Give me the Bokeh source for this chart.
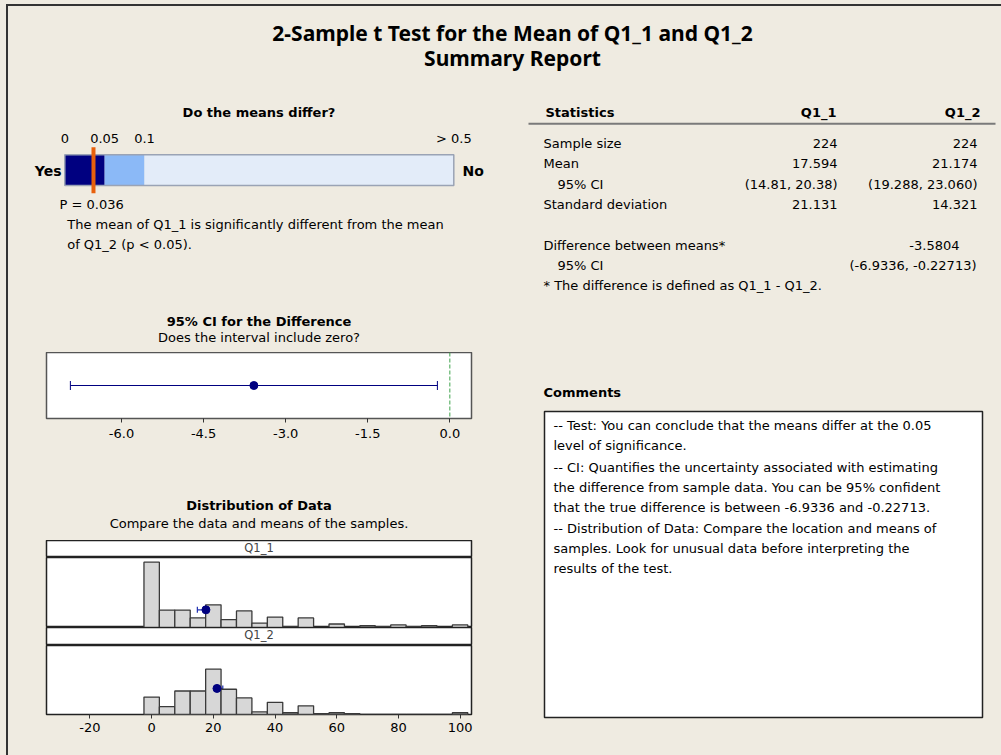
from bokeh.plotting import figure
from bokeh.layouts import column, row
from bokeh.models import (Range1d, ColumnDataSource, Whisker, TeeHead, Span, Spacer,
                          GlobalInlineStyleSheet, FixedTicker, NumeralTickFormatter)
from bokeh.core.properties import value
from bokeh.embed import file_html
from bokeh.resources import INLINE

# ---------------- data ----------------
title_lines = ["2-Sample t Test for the Mean of Q1_1 and Q1_2", "Summary Report"]
samples = ["Q1_1", "Q1_2"]
sample_size = [224, 224]
means = [17.594, 21.174]
mean_ci_low = [14.81, 19.288]
mean_ci_high = [20.38, 23.060]
mean_ci_text = ["(14.81, 20.38)", "(19.288, 23.060)"]
std_dev = [21.131, 14.321]
diff_mean = -3.5804
diff_ci = [-6.9336, -0.22713]
p_value = 0.036
p_ticks = [0.0, 0.05, 0.1, 0.5]
p_tick_labels = ["0", "0.05", "0.1", "> 0.5"]
ci_ticks = [-6.0, -4.5, -3.0, -1.5, 0.0]
hist_ticks = [-20, 0, 20, 40, 60, 80, 100]
bin_centers = [0, 5, 10, 15, 20, 25, 30, 35, 40, 45, 50, 55, 60, 65, 70, 75, 80, 85, 90, 95, 100]
counts_q1_1 = [75, 20, 20, 11, 26, 9, 19, 5, 12, 1, 11, 0, 4, 0, 2, 1, 3, 1, 2, 0, 3]
counts_q1_2 = [20, 9, 27, 27, 52, 29, 19, 3, 14, 2, 10, 1, 2, 1, 0, 0, 0, 0, 0, 0, 2]
comment_lines = [
    "-- Test: You can conclude that the means differ at the 0.05",
    "level of significance.",
    "-- CI: Quantifies the uncertainty associated with estimating",
    "the difference from sample data. You can be 95% confident",
    "that the true difference is between -6.9336 and -0.22713.",
    "-- Distribution of Data: Compare the location and means of",
    "samples. Look for unusual data before interpreting the",
    "results of the test.",
]

# ---------------- style ----------------
BG = "#EFEBE1"
FONT = "DejaVu Sans"
TFONT = "Noto Sans"
NAVY = "#000080"
EDGE = "#333333"


def text_fig(w, h):
    p = figure(width=w, height=h, x_range=Range1d(0, w), y_range=Range1d(h, 0),
               output_backend="svg", toolbar_location=None, min_border=0,
               x_axis_location=None, y_axis_location=None)
    p.grid.visible = False
    p.outline_line_color = None
    p.background_fill_color = BG
    p.border_fill_color = BG
    return p


def txt(p, x, y, s, size=13, bold=False, align="left", color="black", font=FONT):
    p.text(x=[x], y=[y], text=[s], text_font=value(font), text_font_size=f"{size}px",
           text_font_style="bold" if bold else "normal", text_align=align,
           text_baseline="middle", text_color=color)


def p_pos(pv):
    # Minitab p-value bar scale: 0..0.1 expanded, 0.1..0.5 compressed
    if pv <= 0.1:
        return 56.3 + pv / 0.1 * 79.7
    return 136.0 + (pv - 0.1) / 0.4 * 309.3


# ---------------- title ----------------
title_fig = text_fig(1001, 90)
title_fig.segment(x0=[6], x1=[1001], y0=[4.5], y1=[4.5], line_color=EDGE, line_width=2)
txt(title_fig, 512, 32, title_lines[0], size=21, bold=True, align="center", font=TFONT)
txt(title_fig, 512, 57, title_lines[1], size=21, bold=True, align="center", font=TFONT)

# ---------------- left top: do the means differ ----------------
top = text_fig(492, 262)
txt(top, 250.5, 21.7, "Do the means differ?", bold=True, align="center")
for pv, lab in zip(p_ticks, p_tick_labels):
    txt(top, p_pos(pv), 47.7, lab, align="center")
seg_l = [p_pos(p_ticks[0]), p_pos(p_ticks[1]), p_pos(p_ticks[2])]
seg_r = [p_pos(p_ticks[1]), p_pos(p_ticks[2]), p_pos(p_ticks[3])]
top.quad(left=seg_l, right=seg_r, top=64.3, bottom=95.0,
         fill_color=[NAVY, "#8BB9F7", "#E3ECF9"], line_color=None)
top.quad(left=[p_pos(0)], right=[p_pos(0.5)], top=64.3, bottom=95.0,
         fill_color=None, line_color="#9AA3B5", line_width=1.5)
top.segment(x0=[p_pos(p_value)], x1=[p_pos(p_value)], y0=56.7, y1=102.7,
            line_color="#E8600C", line_width=4)
txt(top, 53, 80.7, "Yes", size=14, bold=True, align="right")
txt(top, 454, 80.7, "No", size=14, bold=True)
txt(top, 51, 114, f"P = {p_value:.3f}")
txt(top, 58.7, 134.3, "The mean of Q1_1 is significantly different from the mean")
txt(top, 58.7, 154.3, "of Q1_2 (p < 0.05).")
txt(top, 250.5, 230.7, "95% CI for the Difference", bold=True, align="center")
txt(top, 250.5, 246.5, "Does the interval include zero?", align="center")

# ---------------- CI for difference ----------------
ci = figure(width=492, height=98, x_range=Range1d(-7.37, 0.396), y_range=Range1d(0, 1),
            output_backend="svg", toolbar_location=None,
            min_border_left=38, min_border_right=29, min_border_top=0, min_border_bottom=32,
            y_axis_location=None)
ci.grid.visible = False
ci.background_fill_color = "white"
ci.border_fill_color = BG
ci.outline_line_color = "#555555"
ci.outline_line_width = 1.5
ci.xaxis.ticker = FixedTicker(ticks=ci_ticks)
ci.xaxis.formatter = NumeralTickFormatter(format="0.0")
ci_src = ColumnDataSource(dict(y=[0.5], lo=[diff_ci[0]], hi=[diff_ci[1]], m=[diff_mean]))
ci.add_layout(Whisker(source=ci_src, base="y", lower="lo", upper="hi", dimension="width",
                      line_color=NAVY, line_width=1,
                      lower_head=TeeHead(size=9, line_color=NAVY, line_width=1),
                      upper_head=TeeHead(size=9, line_color=NAVY, line_width=1)))
ci.scatter(x="m", y="y", source=ci_src, size=8, marker="circle", fill_color=NAVY, line_color=NAVY)
ci.add_layout(Span(location=0, dimension="height", line_color="#3FA34D", line_dash="4 2", line_width=1))

# ---------------- distribution titles ----------------
dist_t = text_fig(492, 90)
txt(dist_t, 250.5, 55, "Distribution of Data", bold=True, align="center")
txt(dist_t, 250.5, 73.3, "Compare the data and means of the samples.", align="center")


def strip_fig(h, label):
    p = figure(width=492, height=h, x_range=Range1d(0, 1), y_range=Range1d(0, 1),
               output_backend="svg", toolbar_location=None,
               min_border_left=38, min_border_right=29, min_border_top=0, min_border_bottom=0,
               x_axis_location=None, y_axis_location=None)
    p.grid.visible = False
    p.background_fill_color = "white"
    p.border_fill_color = BG
    p.outline_line_color = "#222222"
    p.outline_line_width = 1.5
    p.text(x=[0.5], y=[0.58], text=[label], text_font=value(FONT), text_font_size="11.5px",
           text_align="center", text_baseline="middle", text_color="#444444")
    return p


def hist_fig(h, ymax, counts, m, lo, hi, ym, axis):
    p = figure(width=492, height=h, x_range=Range1d(-34.1, 103.7), y_range=Range1d(0, ymax),
               output_backend="svg", toolbar_location=None,
               min_border_left=38, min_border_right=29, min_border_top=0,
               min_border_bottom=41 if axis else 0,
               x_axis_location="below" if axis else None, y_axis_location=None)
    p.grid.visible = False
    p.background_fill_color = "white"
    p.border_fill_color = BG
    p.outline_line_color = "#222222"
    p.outline_line_width = 1.5
    p.vbar(x=bin_centers, width=5, top=counts, bottom=0, fill_color="#D7D7D7",
           line_color="#3A3A3A", line_width=1.3)
    src = ColumnDataSource(dict(y=[ym], lo=[lo], hi=[hi], m=[m]))
    p.add_layout(Whisker(source=src, base="y", lower="lo", upper="hi", dimension="width",
                         line_color="#1F2FB0", line_width=1.2,
                         lower_head=TeeHead(size=6, line_color="#1F2FB0", line_width=1.2),
                         upper_head=TeeHead(size=6, line_color="#1F2FB0", line_width=1.2)))
    p.scatter(x="m", y="y", source=src, size=8, marker="circle", fill_color=NAVY, line_color=NAVY)
    if axis:
        p.xaxis.ticker = FixedTicker(ticks=hist_ticks)
        p.xaxis.formatter = NumeralTickFormatter(format="0")
    return p


strip1 = strip_fig(17, samples[0])
hist1 = hist_fig(70, 80.4, counts_q1_1, means[0], mean_ci_low[0], mean_ci_high[0], 20.3, False)
strip2 = strip_fig(18, samples[1])
hist2 = hist_fig(110, 79.2, counts_q1_2, means[1], mean_ci_low[1], mean_ci_high[1], 29.9, True)

for p, standoff in ((ci, 6), (hist2, 4)):
    ax = p.xaxis[0]
    ax.axis_line_color = None
    ax.major_tick_out = 4
    ax.major_tick_in = 0
    ax.minor_tick_line_color = None
    ax.major_tick_line_color = "#333333"
    ax.major_label_standoff = standoff
    ax.major_label_text_font = FONT
    ax.major_label_text_font_size = "13px"
    ax.major_label_text_color = "black"

# ---------------- right column ----------------
rt = text_fig(501, 665)
txt(rt, 45, 21.7, "Statistics", bold=True)
txt(rt, 336, 21.7, samples[0], bold=True, align="right")
txt(rt, 480, 21.7, samples[1], bold=True, align="right")
rt.segment(x0=[28], x1=[495], y0=[33.3], y1=[33.3], line_color="#7A7A7A", line_width=2)
row_y = [53, 73, 93.5, 114]
txt(rt, 43, row_y[0], "Sample size")
txt(rt, 43, row_y[1], "Mean")
txt(rt, 57, row_y[2], "95% CI")
txt(rt, 43, row_y[3], "Standard deviation")
for xr, i in ((337, 0), (477, 1)):
    txt(rt, xr, row_y[0], str(sample_size[i]), align="right")
    txt(rt, xr, row_y[1], f"{means[i]:.3f}", align="right")
    txt(rt, xr, row_y[2], mean_ci_text[i], align="right")
    txt(rt, xr, row_y[3], f"{std_dev[i]:.3f}", align="right")
txt(rt, 43, 154.5, "Difference between means*")
txt(rt, 459, 154.5, f"{diff_mean:.4f}", align="right")
txt(rt, 57, 175, "95% CI")
txt(rt, 476, 175, f"({diff_ci[0]}, {diff_ci[1]})", align="right")
txt(rt, 43, 194.5, "* The difference is defined as Q1_1 - Q1_2.")
txt(rt, 43, 301.7, "Comments", bold=True)
rt.quad(left=[44], right=[482], top=[321], bottom=[627], fill_color="white",
        line_color="#222222", line_width=1.5)
comment_y = [335, 355, 376.7, 396.7, 417.3, 437.7, 458.3, 478.3]
for yy, line in zip(comment_y, comment_lines):
    txt(rt, 53, yy, line)

# ---------------- assemble ----------------
css = ("body { background-color: #EFEBE1; } "
       "body::before { content: ''; position: fixed; left: 6px; top: 4px; width: 2px; "
       "height: 760px; background: #333333; z-index: 1000; pointer-events: none; }")
left = column(row(top), ci, row(dist_t), strip1, hist1, strip2, hist2)
root = column(title_fig, row(Spacer(width=8, height=665), left, rt),
              stylesheets=[GlobalInlineStyleSheet(css=css)])

open("out.html", "w").write(file_html(root, INLINE))
